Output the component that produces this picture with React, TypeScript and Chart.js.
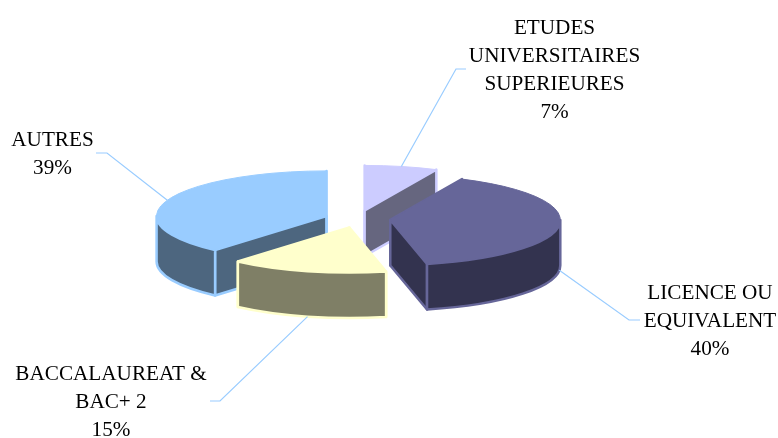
import React, { useEffect, useRef } from "react";
import { Chart, registerables } from "chart.js";

Chart.register(...registerables);

const categories = ["ETUDES UNIVERSITAIRES SUPERIEURES", "LICENCE OU EQUIVALENT", "BACCALAUREAT & BAC+ 2", "AUTRES"];
const shares = [7, 40, 15, 39];
const labelLines = [
  ["ETUDES", "UNIVERSITAIRES", "SUPERIEURES"],
  ["LICENCE OU", "EQUIVALENT"],
  ["BACCALAUREAT &", "BAC+ 2"],
  ["AUTRES"],
];
const topColors = ["#CCCCFF", "#666699", "#FFFFCC", "#99CCFF"];
const sideColors = ["#66667F", "#33334F", "#7F7F66", "#4D667F"];

// Label blocks: text centre and first baseline, then leader elbow and leader end.
const labelCentreX = [554.5, 710, 111, 52.5];
const labelFirstLineY = [28, 293, 374, 140];
const leaderElbow = [[456, 69], [629, 320], [220, 401], [107, 153]];
const leaderEnd = [[466, 69], [640, 320], [210, 401], [96, 153]];

const TILT = 0.265;
const DEPTH = 45.5;
const EXPLODE = 33;
const LINE_HEIGHT = 28;
const LEADER_COLOR = "#99CCFF";

// Centre of a slice once pulled out along its mid angle, on the squashed plane.
function sliceGeometry(arc: any) {
  const { x, y, startAngle, endAngle, outerRadius } = arc.getProps(["x", "y", "startAngle", "endAngle", "outerRadius"], true);
  const mid = (startAngle + endAngle) / 2;
  return {
    cx: x + Math.cos(mid) * EXPLODE,
    cy: y + Math.sin(mid) * EXPLODE * TILT,
    r: outerRadius,
    ry: outerRadius * TILT,
    a0: startAngle,
    a1: endAngle,
    mid,
  };
}

function drawCutFace(ctx: CanvasRenderingContext2D, g: any, a: number) {
  const px = g.cx + g.r * Math.cos(a);
  const py = g.cy + g.ry * Math.sin(a);
  ctx.beginPath();
  ctx.moveTo(g.cx, g.cy);
  ctx.lineTo(px, py);
  ctx.lineTo(px, py + DEPTH);
  ctx.lineTo(g.cx, g.cy + DEPTH);
  ctx.closePath();
  ctx.fill();
  ctx.stroke();
}

function drawRimWall(ctx: CanvasRenderingContext2D, g: any) {
  // Only the part of the rim that faces the viewer, angles 0..PI modulo a full turn.
  const TAU = Math.PI * 2;
  for (const k of [-1, 0, 1]) {
    const from = Math.max(g.a0, k * TAU);
    const to = Math.min(g.a1, k * TAU + Math.PI);
    if (to <= from) continue;
    ctx.beginPath();
    ctx.ellipse(g.cx, g.cy, g.r, g.ry, 0, from, to);
    ctx.ellipse(g.cx, g.cy + DEPTH, g.r, g.ry, 0, to, from, true);
    ctx.closePath();
    ctx.fill();
    ctx.stroke();
  }
}

const pie3d = {
  id: "pie3d",
  beforeDatasetDraw(chart: any) {
    const ctx: CanvasRenderingContext2D = chart.ctx;
    const arcs = chart.getDatasetMeta(0).data;
    const order = arcs
      .map((arc: any, i: number) => ({ i, g: sliceGeometry(arc) }))
      .sort((p: any, q: any) => p.g.cy - q.g.cy);
    ctx.save();
    ctx.lineJoin = "round";
    for (const { i, g } of order) {
      ctx.fillStyle = sideColors[i];
      ctx.strokeStyle = topColors[i];
      ctx.lineWidth = 2.5;
      drawCutFace(ctx, g, g.a0);
      drawCutFace(ctx, g, g.a1);
      drawRimWall(ctx, g);
      ctx.fillStyle = topColors[i];
      ctx.lineWidth = 1;
      ctx.beginPath();
      ctx.moveTo(g.cx, g.cy);
      ctx.ellipse(g.cx, g.cy, g.r, g.ry, 0, g.a0, g.a1);
      ctx.closePath();
      ctx.fill();
      ctx.stroke();
    }
    ctx.restore();
    return false;
  },
  afterDatasetsDraw(chart: any) {
    const ctx: CanvasRenderingContext2D = chart.ctx;
    const arcs = chart.getDatasetMeta(0).data;
    ctx.save();
    ctx.strokeStyle = LEADER_COLOR;
    ctx.lineWidth = 1.2;
    arcs.forEach((arc: any, i: number) => {
      const g = sliceGeometry(arc);
      const sy = Math.sin(g.mid);
      ctx.beginPath();
      ctx.moveTo(g.cx + g.r * Math.cos(g.mid), g.cy + g.ry * sy + (sy > 0 ? DEPTH : 0));
      ctx.lineTo(leaderElbow[i][0], leaderElbow[i][1]);
      ctx.lineTo(leaderEnd[i][0], leaderEnd[i][1]);
      ctx.stroke();
    });
    ctx.fillStyle = "#000000";
    ctx.font = '21.2px "Liberation Serif"';
    ctx.textAlign = "center";
    ctx.textBaseline = "middle";
    labelLines.forEach((lines, i) => {
      [...lines, `${shares[i]}%`].forEach((line, n) => {
        ctx.fillText(line, labelCentreX[i], labelFirstLineY[i] + n * LINE_HEIGHT);
      });
    });
    ctx.restore();
  },
};

export default function App() {
  const ref = useRef<HTMLCanvasElement>(null);
  useEffect(() => {
    const chart = new Chart(ref.current as HTMLCanvasElement, {
      type: "pie",
      data: {
        labels: categories,
        datasets: [{ data: shares, backgroundColor: topColors, borderColor: topColors }],
      },
      options: {
        responsive: false,
        animation: false,
        radius: 170,
        layout: { padding: { left: 0, right: 63, top: 0, bottom: 0 } },
        plugins: { legend: { display: false }, tooltip: { enabled: false } },
      },
      plugins: [pie3d],
    } as any);
    return () => chart.destroy();
  }, []);
  return (
    <canvas
      ref={ref}
      width={778}
      height={438}
      style={{ position: "absolute", left: 0, top: 0, display: "block" }}
    />
  );
}
